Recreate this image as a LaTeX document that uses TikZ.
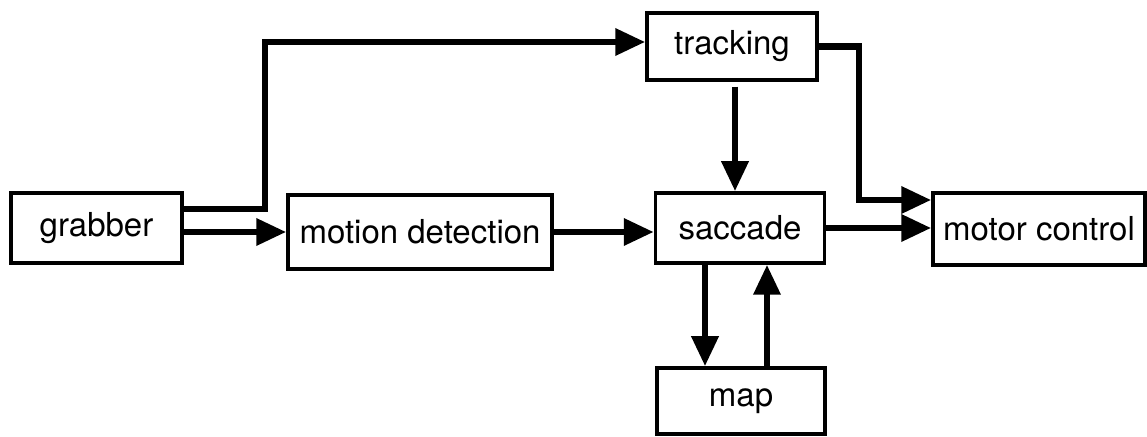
\documentclass[tikz,border=0pt]{standalone}
\usepackage{fontspec}
\setmainfont{TeX Gyre Heros}
\usetikzlibrary{arrows.meta}

\begin{document}
\begin{tikzpicture}[x=1pt, y=1pt,
  main/.style = {draw, line width=3.5pt, minimum height=70pt, inner sep=0pt,
                 font=\fontsize{33}{40}\selectfont},
  flow/.style = {line width=6.5pt, -{Triangle[length=30pt,width=26pt]}}]
\useasboundingbox (0,0) rectangle (1147,436);

\node[main, minimum width=171pt] (grab) at (96.5,208) {grabber};
\node[main, minimum width=264pt, minimum height=74pt] (motion) at (420,204) {motion detection};
\node[main, minimum width=169pt] (sacc) at (740,208) {saccade};
\node[main, minimum width=170pt, minimum height=67pt] (track) at (732,389.5) {tracking};
\node[main, minimum width=212pt, minimum height=72pt] (motor) at (1039,207) {motor control};
\node[main, minimum width=168pt, minimum height=66pt] (map) at (741,35) {map};

\coordinate (x1) at (735,0);
\coordinate (x2) at (705,0);
\coordinate (x3) at (767,0);

\draw[flow] (grab.east |- motion.west) -- (motion.west);
\draw[flow] ([yshift=19pt]grab.east) -- ++(81,0) |- ([yshift=4.5pt]track.west);
\draw[flow] (motion.east) -- (sacc.west |- motion.east);
\draw[flow] ([yshift=-5pt]track.south -| x1) -- (sacc.north -| x1);
\draw[flow] (track.east) -- ++(40,0) |- ([yshift=29pt]motor.west);
\draw[flow] (sacc.east) -- (motor.west |- sacc.east);
\draw[flow] (sacc.south -| x2) -- (map.north -| x2);
\draw[flow] (map.north -| x3) -- (sacc.south -| x3);
\end{tikzpicture}
\end{document}
